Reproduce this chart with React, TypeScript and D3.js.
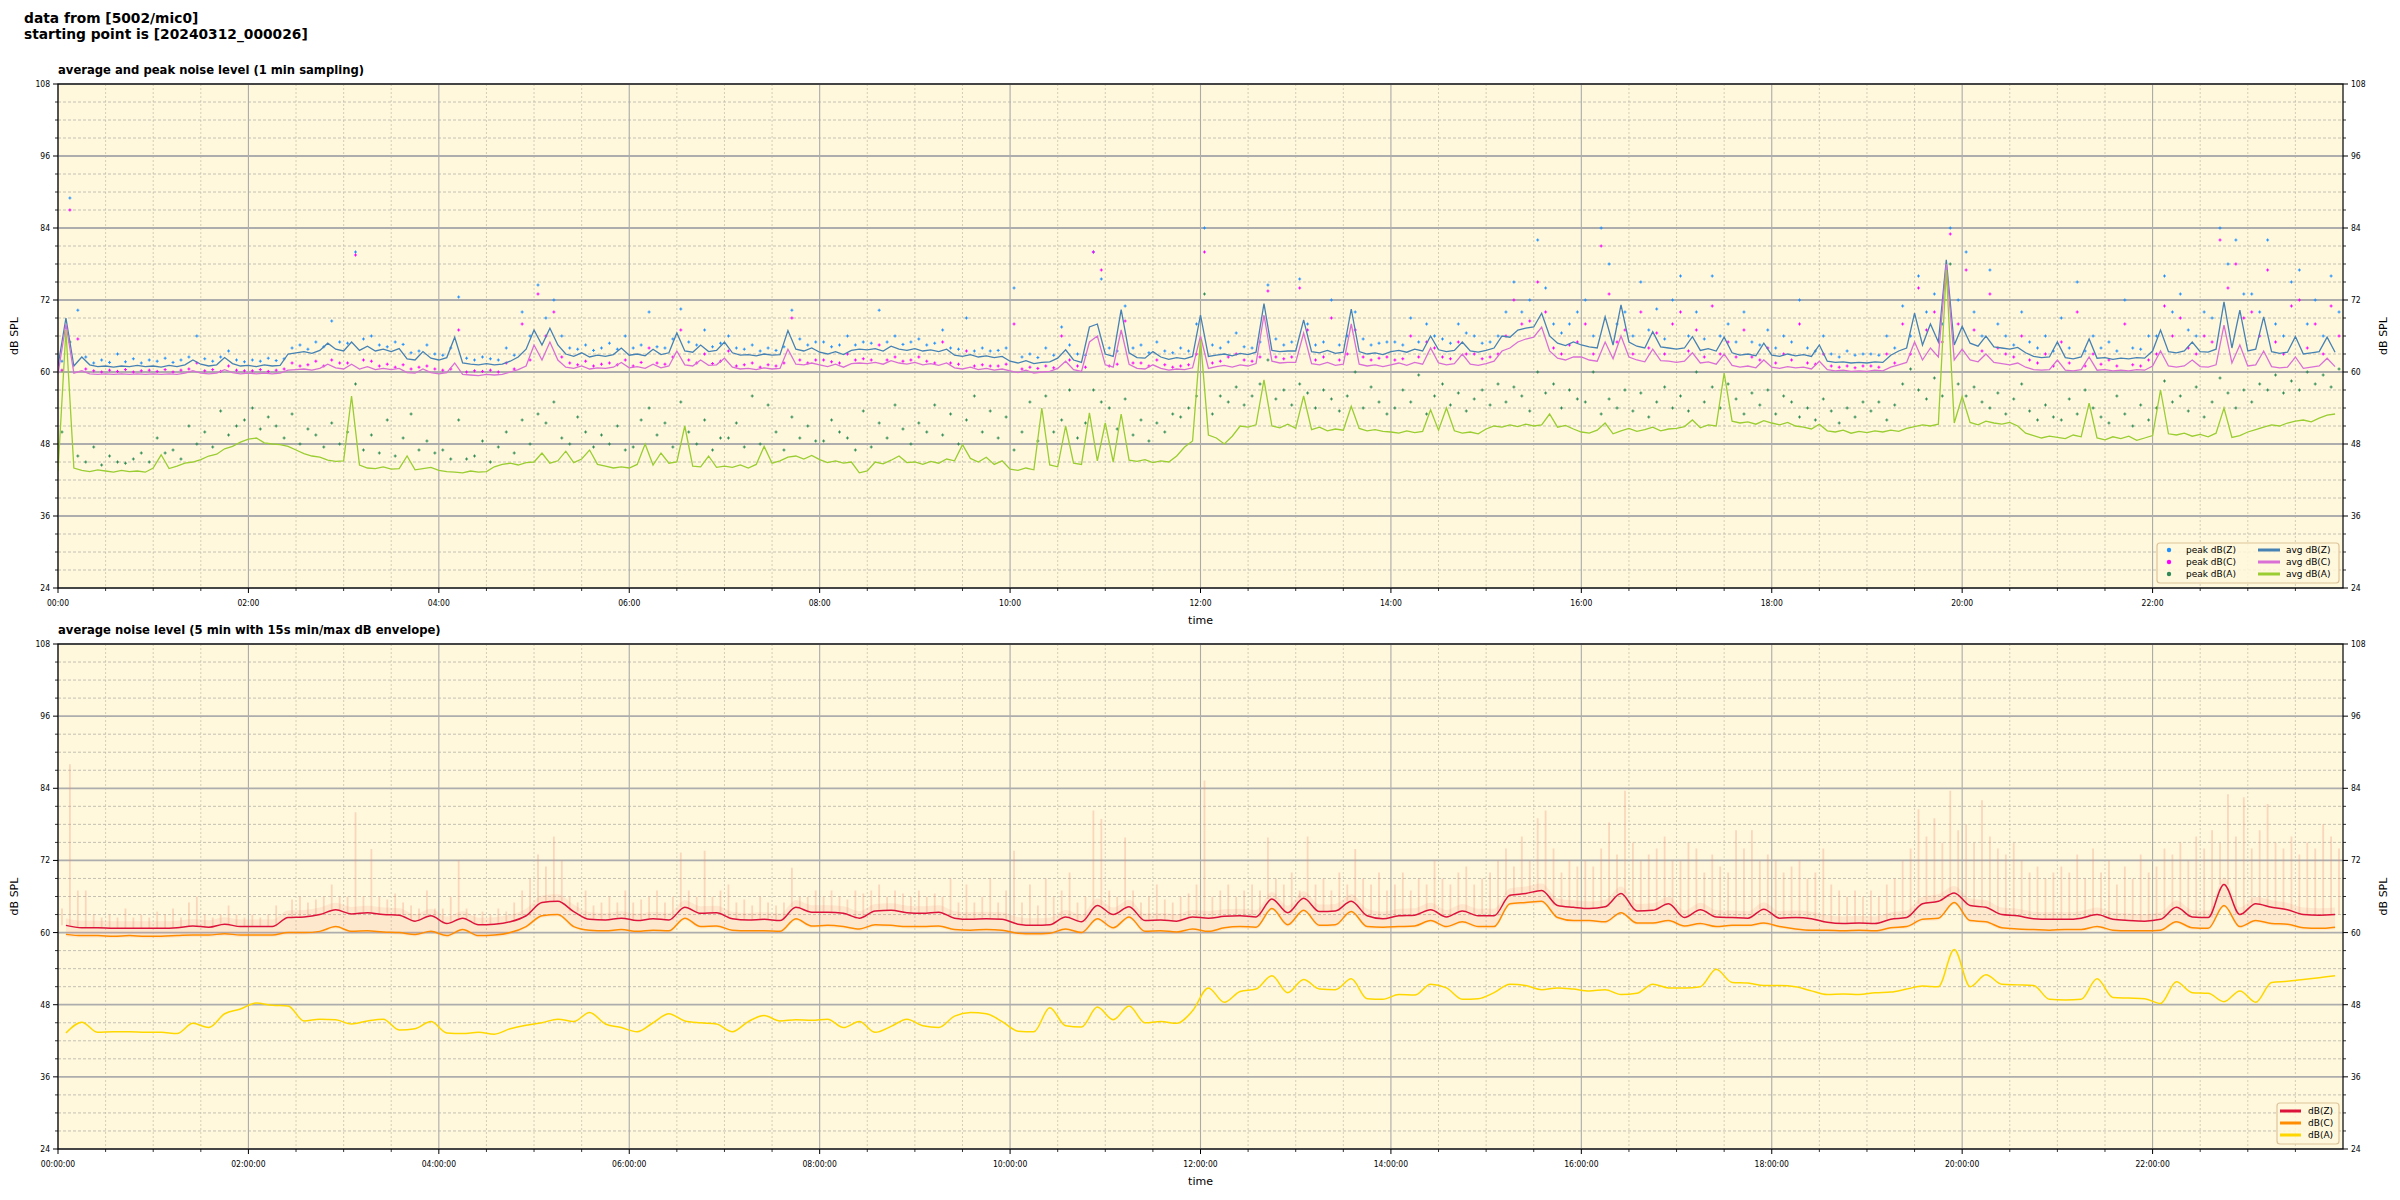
import * as d3 from 'd3'

// ---- top panel: 1 min sampling, stored here at 5 min steps ----
const avgZ = [
  61.0, 69.0, 61.0, 62.5, 61.2, 60.9, 61.0, 60.8, 61.0, 60.9, 61.1, 60.9,
  61.0, 60.8, 61.1, 60.9, 61.2, 62.0, 61.3, 61.0, 61.2, 62.4, 61.4, 61.0,
  61.1, 60.9, 61.2, 61.0, 61.1, 63.0, 63.2, 63.4, 63.1, 63.6, 64.8, 63.8,
  63.5, 65.0, 63.6, 64.3, 63.5, 63.8, 63.4, 63.9, 62.2, 62.0, 63.4, 62.3,
  62.0, 62.4, 65.8, 61.5, 61.3, 61.2, 61.4, 61.2, 61.3, 61.8, 62.5, 63.8,
  67.0, 64.5, 67.3, 64.5, 63.0, 62.6, 63.2, 62.5, 62.8, 62.6, 62.9, 64.0,
  62.8, 63.0, 62.7, 63.8, 62.9, 63.2, 66.5, 63.5, 63.3, 64.5, 63.4, 63.6,
  65.0, 63.2, 62.8, 62.9, 62.7, 63.0, 62.8, 62.9, 66.9, 63.8, 63.5, 64.0,
  63.3, 63.0, 63.4, 62.9, 63.6, 63.8, 63.7, 63.9, 63.5, 64.3, 63.8, 63.6,
  63.9, 63.5, 63.7, 63.4, 63.8, 62.8, 62.6, 62.9, 62.5, 62.7, 62.4, 62.6,
  61.8, 61.5, 61.9, 61.4, 61.6, 61.7, 62.3, 63.7, 62.0, 61.6, 67.5, 68.0,
  63.0, 62.6, 70.4, 63.2, 62.4, 62.3, 63.4, 62.5, 62.1, 62.4, 62.2, 62.6,
  69.5, 62.6, 62.8, 63.0, 62.7, 63.1, 62.9, 63.3, 71.4, 63.6, 63.4, 63.5,
  63.5, 68.7, 63.4, 63.2, 63.6, 63.1, 63.3, 70.5, 63.4, 63.0, 63.2, 62.9,
  63.4, 63.6, 63.3, 63.8, 63.5, 66.0, 63.7, 63.4, 63.6, 65.0, 63.5, 63.3,
  63.6, 64.0, 66.0, 65.8, 67.0, 67.3, 67.5, 69.8, 66.0, 64.8, 64.4, 65.0,
  64.5, 64.2, 64.0, 69.2, 64.5, 71.2, 65.0, 64.3, 64.0, 66.7, 64.2, 64.0,
  63.8, 64.0, 65.9, 63.6, 63.9, 63.5, 65.8, 63.2, 62.8, 63.0, 62.7, 64.8,
  62.8, 62.6, 63.0, 62.7, 62.9, 62.6, 64.5, 61.8, 61.6, 61.7, 61.5, 61.6,
  61.5, 61.7, 61.6, 62.8, 63.5, 64.0, 69.8, 64.5, 68.0, 65.0, 78.7, 64.5,
  67.6, 64.8, 64.3, 66.0, 64.2, 64.0, 63.8, 64.1, 63.2, 62.6, 62.4, 62.5,
  65.0, 62.4, 62.2, 62.5, 65.5, 62.3, 62.4, 62.1, 62.3, 62.2, 62.4, 62.3,
  63.5, 67.0, 63.4, 63.2, 63.5, 65.0, 63.4, 63.3, 63.8, 71.7, 64.0, 70.3,
  63.5, 63.8, 69.2, 63.4, 63.1, 63.3, 65.9, 63.0, 63.2, 63.4, 65.8, 63.3,
]

const avgC = [
  59.7, 68.0, 59.8, 60.2, 59.7, 59.6, 59.7, 59.6, 59.7, 59.6, 59.7, 59.6,
  59.7, 59.6, 59.7, 59.6, 59.8, 60.2, 59.8, 59.7, 59.8, 60.4, 59.9, 59.7,
  59.8, 59.7, 59.8, 59.7, 59.8, 60.3, 60.4, 60.5, 60.3, 60.6, 61.3, 60.7,
  60.5, 61.3, 60.5, 60.9, 60.4, 60.6, 60.4, 60.6, 59.9, 59.8, 60.5, 59.9,
  59.7, 59.9, 61.5, 59.6, 59.5, 59.4, 59.6, 59.5, 59.6, 60.0, 60.4, 61.0,
  64.5, 62.0, 65.0, 62.0, 60.8, 60.6, 61.0, 60.5, 60.7, 60.6, 60.8, 61.6,
  60.7, 60.9, 60.6, 61.3, 60.7, 61.0, 63.5, 61.2, 61.0, 62.0, 61.1, 61.2,
  62.3, 60.8, 60.5, 60.6, 60.4, 60.7, 60.5, 60.6, 63.8, 61.3, 61.2, 61.5,
  61.2, 60.9, 61.3, 60.8, 61.4, 61.5, 61.4, 61.6, 61.3, 61.9, 61.5, 61.3,
  61.6, 61.2, 61.4, 61.1, 61.5, 60.7, 60.5, 60.8, 60.4, 60.6, 60.3, 60.5,
  60.2, 59.9, 60.3, 59.8, 60.0, 60.1, 60.6, 61.8, 60.4, 60.1, 65.0, 66.0,
  61.2, 60.8, 67.0, 61.3, 60.6, 60.5, 61.2, 60.6, 60.3, 60.5, 60.4, 60.7,
  66.0, 60.6, 60.9, 61.1, 60.8, 61.2, 61.0, 61.4, 69.5, 61.8, 61.5, 61.6,
  61.6, 66.5, 61.4, 61.2, 61.6, 61.1, 61.3, 68.0, 61.3, 61.0, 61.2, 60.9,
  61.2, 61.5, 61.1, 61.6, 61.3, 64.0, 61.5, 61.2, 61.4, 63.0, 61.3, 61.1,
  61.4, 61.8, 63.5, 64.0, 65.0, 65.5, 65.8, 67.5, 63.5, 62.3, 62.0, 62.5,
  62.5, 62.0, 61.8, 65.0, 62.2, 66.0, 62.5, 62.0, 61.7, 63.8, 61.9, 61.8,
  61.6, 61.8, 63.2, 61.5, 61.7, 61.3, 63.0, 61.1, 60.8, 61.0, 60.7, 62.0,
  60.8, 60.6, 60.9, 60.7, 60.8, 60.5, 61.8, 60.4, 60.2, 60.3, 60.1, 60.2,
  60.1, 60.3, 60.2, 60.8, 61.2, 61.6, 65.0, 62.0, 64.0, 62.5, 78.0, 62.0,
  63.8, 62.0, 61.7, 63.0, 61.6, 61.4, 61.2, 61.5, 60.8, 60.4, 60.3, 60.4,
  62.0, 60.3, 60.2, 60.4, 62.5, 60.3, 60.4, 60.2, 60.3, 60.2, 60.4, 60.3,
  61.0, 63.5, 61.0, 60.8, 61.0, 62.0, 60.9, 60.8, 61.2, 67.8, 61.5, 64.5,
  61.0, 61.2, 63.5, 60.9, 60.7, 60.8, 62.5, 60.6, 60.8, 61.0, 62.3, 60.9,
]

const avgA = [
  43.5, 67.0, 44.0, 43.6, 43.4, 43.7, 43.5, 43.3, 43.6, 43.4, 43.5, 43.3,
  44.0, 46.2, 43.9, 44.3, 44.8, 45.0, 45.4, 46.0, 46.3, 47.2, 47.6, 48.3,
  48.8, 49.0, 48.2, 48.0, 47.9, 47.6, 47.0, 46.4, 46.0, 45.8, 45.3, 45.1,
  45.2, 56.0, 44.5, 44.0, 43.9, 44.2, 43.8, 43.9, 46.0, 43.7, 43.9, 44.1,
  43.6, 43.4, 43.3, 43.2, 43.5, 43.3, 43.4, 44.2, 44.6, 44.8, 44.5, 44.9,
  45.0, 46.5, 44.8, 45.2, 46.8, 44.9, 45.5, 47.0, 44.6, 44.3, 44.0, 44.2,
  44.0, 44.6, 48.0, 44.5, 46.5, 44.8, 45.0, 51.0, 44.3, 44.2, 46.0, 44.1,
  44.3, 44.1, 44.5, 44.0, 44.6, 47.6, 44.8, 45.2, 45.8, 46.0, 45.5, 46.1,
  45.4, 44.9, 45.2, 44.8, 45.0, 43.2, 43.5, 45.0, 44.7, 45.3, 46.0, 44.9,
  45.0, 44.6, 45.1, 44.8, 45.5, 45.2, 47.9, 45.6, 45.0, 45.8, 44.6, 45.2,
  43.8, 43.6, 44.0, 43.7, 54.0, 44.5, 44.2, 51.0, 44.8, 44.6, 53.2, 45.2,
  51.5, 45.0, 53.0, 45.3, 45.1, 45.4, 44.9, 45.2, 45.0, 46.0, 47.5, 48.5,
  65.4, 49.5, 49.0, 48.0, 49.3, 51.0, 50.8, 51.2, 58.7, 51.0, 50.7, 51.3,
  50.6, 56.0, 50.4, 50.8, 50.2, 50.5, 50.3, 54.3, 50.6, 50.2, 50.4, 50.1,
  50.0, 49.8, 50.2, 49.9, 50.1, 53.7, 50.3, 54.0, 50.2, 49.8, 50.0, 49.7,
  50.5, 51.0, 50.8, 51.2, 50.9, 51.3, 51.0, 51.2, 53.0, 50.8, 51.1, 50.5,
  50.0, 49.8, 50.3, 51.5, 49.7, 50.2, 50.6, 50.1, 50.4, 50.8, 50.2, 50.5,
  50.6, 50.9, 52.0, 50.7, 51.2, 51.0, 59.8, 51.8, 51.5, 51.7, 51.3, 51.9,
  51.5, 51.2, 51.6, 51.0, 50.8, 50.5, 51.3, 50.2, 50.0, 50.3, 49.8, 50.1,
  49.9, 50.2, 50.0, 50.3, 50.1, 50.6, 50.9, 51.2, 51.0, 51.3, 77.0, 51.5,
  55.9, 51.6, 51.2, 51.8, 51.5, 51.3, 51.6, 51.0, 49.8, 49.4, 49.0, 49.3,
  49.1, 48.9, 49.5, 49.2, 54.8, 49.0, 48.7, 49.2, 48.9, 49.3, 48.6, 49.0,
  49.4, 57.0, 49.7, 49.5, 49.8, 49.3, 49.6, 49.2, 49.8, 54.0, 49.1, 49.4,
  50.0, 50.4, 50.8, 51.2, 51.0, 51.5, 51.8, 52.0, 51.7, 52.3, 52.8, 53.0,
]

// peaks, one per 5 min
const peakZ = [
  61.8, 89.0, 70.3, 62.5, 61.5, 62.0, 61.6, 63.0, 61.7, 62.2, 61.5, 62.0,
  61.8, 62.3, 61.6, 62.0, 62.5, 66.0, 62.2, 61.8, 62.5, 63.5, 62.0, 61.7,
  62.0, 61.8, 62.3, 61.9, 62.2, 64.0, 64.5, 63.8, 65.0, 64.2, 68.5, 65.0,
  64.8, 80.0, 65.5, 66.0, 64.5, 64.2, 65.0, 64.6, 63.2, 63.5, 64.5, 63.0,
  62.8, 64.0, 72.5, 62.3, 62.0, 62.5, 62.2, 62.0, 64.0, 62.8, 70.0, 66.0,
  74.5, 69.0, 72.0, 66.0, 64.0, 63.8, 64.5, 63.6, 64.0, 64.8, 63.8, 66.0,
  64.0, 64.5, 70.0, 64.2, 64.0, 65.5, 70.5, 65.0, 64.5, 67.0, 64.2, 64.8,
  66.0, 64.0, 63.8, 64.5, 63.5, 64.0, 63.6, 64.2, 70.3, 65.5, 64.5, 65.0,
  65.0, 64.2, 64.5, 66.0, 64.5, 65.0, 64.8, 70.3, 65.0, 66.0, 64.6, 65.0,
  65.5, 64.5, 64.8, 67.0, 64.0, 63.8, 69.0, 63.5, 64.0, 63.5, 63.6, 64.0,
  74.0, 62.5, 63.0, 62.4, 64.0, 62.8, 67.5, 64.5, 63.0, 62.8, 80.0, 75.5,
  64.0, 63.5, 71.0, 64.0, 64.5, 63.2, 65.0, 63.5, 63.2, 64.0, 63.5, 68.0,
  84.0, 64.5, 64.0, 65.0, 66.5, 64.2, 64.0, 65.0, 74.5, 65.5, 64.5, 65.0,
  75.5, 68.0, 64.5, 65.0, 72.0, 64.5, 66.0, 70.0, 65.5, 64.5, 64.8, 65.0,
  65.0, 64.5, 69.0, 65.0, 68.0, 66.0, 65.5, 64.8, 68.0, 66.5, 66.0, 64.8,
  65.0, 66.0, 70.0, 75.0, 70.0, 72.0, 82.0, 74.0, 68.0, 66.5, 68.0, 70.0,
  72.0, 66.0, 84.0, 78.0, 68.0, 70.0, 66.0, 75.0, 67.0, 70.5, 65.5, 72.0,
  76.0, 66.0, 70.0, 65.5, 76.0, 66.0, 68.0, 65.0, 70.0, 65.0, 64.5, 67.0,
  64.0, 66.0, 65.0, 72.0, 64.0, 63.5, 66.0, 63.0, 62.5, 63.5, 62.8, 63.0,
  63.0, 62.8, 66.0, 64.0, 71.0, 66.0, 76.0, 70.0, 73.0, 68.0, 84.0, 72.0,
  80.0, 70.0, 66.0, 77.0, 68.0, 66.0, 64.5, 70.0, 65.0, 64.0, 66.0, 63.5,
  69.0, 64.0, 75.0, 63.5, 66.0, 64.0, 65.0, 63.5, 72.0, 64.0, 63.8, 66.0,
  66.0, 76.0, 70.0, 73.0, 67.0, 66.0, 70.0, 69.0, 84.0, 78.0, 82.0, 73.0,
  73.0, 70.0, 82.0, 68.0, 66.0, 75.0, 77.0, 68.0, 72.0, 66.0, 76.0, 70.0,
]

const peakC = [
  60.3, 87.0, 65.5, 60.5, 60.2, 60.0, 60.3, 60.1, 60.4, 60.0, 60.2, 60.3,
  60.1, 60.4, 60.0, 60.3, 60.5, 61.5, 60.2, 60.4, 60.1, 61.0, 60.3, 60.2,
  60.2, 60.4, 60.1, 60.3, 60.5, 61.5, 61.0, 61.2, 61.8, 61.0, 62.0, 61.5,
  61.5, 79.5, 62.0, 61.8, 61.0, 61.3, 60.8, 61.2, 60.5, 60.8, 61.0, 60.5,
  60.3, 60.5, 67.0, 60.0, 60.2, 60.1, 60.3, 60.0, 61.5, 60.5, 68.0, 62.0,
  73.0, 66.0, 70.0, 62.5, 61.5, 61.2, 61.8, 61.0, 61.3, 61.5, 61.2, 62.0,
  61.0, 61.6, 64.0, 61.5, 61.3, 62.5, 67.0, 62.0, 61.5, 63.0, 61.4, 61.8,
  63.5, 61.0, 61.2, 61.5, 60.8, 61.2, 61.0, 61.5, 69.0, 62.0, 61.5, 62.0,
  62.0, 61.7, 61.5, 63.0, 62.0, 62.2, 62.0, 64.5, 62.0, 62.5, 61.8, 62.0,
  62.5, 61.8, 61.5, 65.0, 61.5, 61.3, 63.5, 61.0, 61.2, 61.0, 61.0, 61.3,
  68.0, 60.5, 60.8, 60.6, 61.0, 60.7, 66.0, 62.0, 61.0, 60.8, 80.0, 77.0,
  61.0, 61.3, 68.5, 61.5, 61.5, 61.0, 62.0, 61.2, 60.8, 61.0, 61.2, 63.0,
  80.0, 61.5, 61.8, 62.5, 63.0, 62.0, 61.8, 62.5, 73.5, 62.5, 62.2, 62.5,
  74.0, 67.0, 62.0, 62.5, 69.0, 62.0, 63.0, 67.0, 62.5, 62.0, 62.3, 62.5,
  62.0, 62.2, 66.0, 62.5, 65.0, 64.0, 62.5, 62.2, 65.0, 63.0, 63.0, 62.2,
  62.5, 63.0, 66.0, 72.0, 68.0, 68.5, 75.0, 70.0, 64.0, 63.0, 64.5, 65.0,
  68.0, 63.0, 81.0, 73.0, 65.0, 67.0, 63.0, 70.0, 64.0, 66.5, 63.0, 68.0,
  70.0, 63.5, 67.0, 62.5, 71.0, 63.0, 65.0, 62.5, 67.0, 62.5, 62.0, 64.0,
  61.5, 63.0, 62.0, 68.0, 61.5, 61.3, 63.0, 61.0, 60.8, 61.0, 60.7, 61.0,
  61.0, 60.8, 63.0, 61.5, 68.0, 63.0, 74.0, 67.0, 70.0, 65.0, 83.0, 68.0,
  77.0, 67.0, 63.5, 73.0, 64.0, 63.0, 62.5, 66.0, 62.0, 61.5, 63.0, 61.0,
  65.0, 61.5, 70.0, 61.0, 63.0, 61.3, 62.0, 61.0, 68.0, 61.2, 61.0, 62.0,
  63.0, 71.0, 66.0, 69.0, 64.0, 63.0, 66.0, 65.0, 82.0, 74.0, 78.0, 69.0,
  70.0, 66.0, 77.0, 65.0, 63.0, 71.0, 72.0, 64.0, 68.0, 63.0, 71.0, 66.0,
]

const peakA = [
  50.0, 65.0, 46.0, 45.0, 47.5, 44.5, 46.0, 45.0, 44.8, 45.5, 46.5, 45.0,
  49.0, 46.5, 47.0, 45.5, 51.0, 48.0, 50.0, 47.5, 53.5, 49.5, 51.0, 52.0,
  54.0, 50.5, 52.5, 51.0, 49.0, 53.0, 48.0, 50.5, 49.5, 47.5, 51.5, 48.0,
  50.0, 58.0, 47.0, 49.5, 46.5, 52.0, 46.0, 49.0, 53.0, 47.0, 48.5, 46.5,
  47.0, 45.5, 52.0, 45.5, 46.0, 48.5, 45.0, 47.5, 50.0, 46.5, 52.0, 48.0,
  53.0, 51.5, 55.0, 49.0, 48.0, 52.5, 50.0, 47.5, 49.5, 48.0, 51.0, 47.0,
  47.5, 52.0, 54.0, 49.5, 51.5, 47.5, 55.0, 50.0, 48.0, 52.0, 47.0, 49.0,
  49.0, 51.5, 47.5, 56.0, 48.0, 54.5, 50.0, 47.0, 52.5, 49.0, 51.0, 48.5,
  48.5, 52.0, 50.0, 49.0, 47.0, 53.5, 47.5, 51.5, 49.0, 54.5, 50.5, 48.0,
  51.5, 50.0, 54.5, 49.5, 53.0, 48.0, 52.0, 56.0, 50.0, 53.5, 49.0, 52.5,
  47.0, 50.0, 55.0, 48.5, 56.0, 50.0, 52.0, 57.0, 49.0, 51.5, 57.0, 55.0,
  54.0, 50.5, 55.5, 49.5, 52.0, 48.5, 51.5, 50.0, 53.0, 52.5, 54.0, 56.0,
  73.0, 53.0, 56.0, 55.0, 57.5, 54.5, 56.0, 58.0, 62.0, 55.5, 57.0, 54.5,
  58.0, 56.5, 54.0, 57.0, 55.5, 53.5, 56.0, 60.0, 54.0, 57.5, 55.0, 53.0,
  54.0, 57.0, 55.0, 59.5, 53.0, 56.0, 58.0, 54.5, 56.5, 53.5, 55.5, 57.0,
  54.5, 58.0, 55.0, 57.5, 56.0, 53.5, 60.0, 56.5, 58.0, 54.0, 57.0, 55.5,
  55.0, 60.0, 53.0, 55.5, 54.0, 57.0, 53.5, 56.5, 52.5, 55.0, 57.5, 54.0,
  56.0, 53.5, 60.0, 55.0, 57.5, 54.0, 58.0, 55.5, 53.0, 56.5, 54.5, 57.0,
  53.0, 56.0, 55.0, 52.5, 54.0, 52.0, 55.5, 53.5, 51.5, 54.0, 52.5, 55.0,
  53.5, 55.0, 52.0, 54.5, 58.0, 60.5, 57.0, 55.5, 59.0, 56.0, 78.0, 58.0,
  56.0, 57.5, 55.0, 54.0, 56.5, 53.0, 55.5, 58.0, 53.5, 52.0, 54.5, 52.5,
  52.0, 55.5, 53.0, 57.0, 54.0, 52.5, 51.5, 56.0, 53.0, 51.0, 54.5, 52.0,
  54.0, 58.5, 55.0, 56.0, 53.5, 57.5, 52.5, 55.0, 59.0, 56.5, 54.0, 57.0,
  55.0, 58.0, 57.0, 59.5, 56.5, 58.5, 57.0, 60.0, 58.0, 59.5, 57.5, 60.5,
]

// ---- bottom panel: 5 min averages, stored at 10 min steps ----
const lvlZ = [
  61.2, 60.8, 60.8, 60.7, 60.7, 60.7, 60.7, 60.8, 61.1, 60.9, 61.4, 61.0,
  61.0, 61.0, 62.5, 62.6, 63.0, 63.8, 63.1, 63.3, 63.0, 62.9, 61.9, 62.8,
  61.5, 62.4, 61.3, 61.4, 61.8, 62.8, 65.0, 65.2, 63.5, 62.2, 62.1, 62.4,
  62.0, 62.3, 62.1, 64.2, 63.2, 63.3, 62.3, 62.1, 62.2, 62.0, 64.2, 63.4,
  63.4, 63.2, 62.4, 63.6, 63.7, 63.3, 63.2, 63.4, 62.4, 62.2, 62.3, 62.2,
  61.4, 61.2, 61.3, 62.6, 61.8, 64.5, 63.0, 64.3, 62.0, 62.1, 61.9, 62.6,
  62.4, 62.7, 62.8, 62.6, 65.6, 63.3, 65.7, 63.5, 63.6, 65.2, 62.8, 62.3,
  62.8, 62.9, 63.8, 62.6, 63.6, 62.8, 62.8, 66.2, 66.5, 67.0, 64.5, 64.2,
  64.0, 64.3, 66.5, 63.6, 63.7, 64.8, 62.5, 63.8, 62.6, 62.5, 62.4, 63.9,
  62.4, 62.5, 62.3, 61.7, 61.5, 61.6, 61.5, 62.2, 62.5, 64.8, 65.2, 66.6,
  64.5, 64.2, 63.0, 62.8, 62.3, 62.2, 62.2, 62.4, 63.0, 62.2, 62.0, 61.9,
  62.2, 64.2, 62.6, 62.5, 68.0, 63.0, 64.8, 64.2, 63.8, 63.0, 62.9, 63.0,
]

const lvlC = [
  59.7, 59.5, 59.5, 59.4, 59.5, 59.4, 59.4, 59.5, 59.6, 59.6, 59.8, 59.6,
  59.6, 59.6, 60.0, 60.0, 60.2, 61.0, 60.2, 60.3, 60.1, 60.0, 59.7, 60.2,
  59.5, 60.5, 59.5, 59.6, 60.0, 61.0, 62.8, 63.0, 61.0, 60.4, 60.3, 60.5,
  60.2, 60.4, 60.3, 62.4, 61.0, 61.1, 60.4, 60.3, 60.3, 60.2, 62.3, 61.1,
  61.2, 61.0, 60.6, 61.3, 61.2, 61.0, 61.0, 61.1, 60.5, 60.4, 60.5, 60.4,
  59.9, 59.8, 59.9, 60.6, 60.0, 62.3, 60.8, 62.6, 60.2, 60.3, 60.1, 60.6,
  60.2, 60.8, 61.0, 60.9, 64.0, 61.3, 63.7, 61.2, 61.3, 63.5, 61.0, 60.9,
  61.0, 61.1, 62.0, 61.0, 61.8, 61.0, 61.0, 64.8, 65.0, 65.2, 62.5, 62.0,
  62.0, 61.8, 63.3, 61.6, 61.6, 62.0, 61.1, 61.5, 61.0, 61.2, 61.2, 61.6,
  61.0, 60.6, 60.4, 60.4, 60.3, 60.4, 60.3, 60.8, 61.0, 62.2, 62.4, 65.0,
  62.0, 61.8, 60.8, 60.6, 60.5, 60.4, 60.5, 60.5, 61.0, 60.4, 60.3, 60.3,
  60.4, 61.8, 60.8, 60.7, 64.5, 61.0, 62.0, 61.5, 61.4, 60.8, 60.7, 60.9,
]

const lvlA = [
  43.3, 45.1, 43.4, 43.5, 43.5, 43.4, 43.4, 43.2, 44.9, 44.2, 46.5, 47.3,
  48.3, 47.9, 47.8, 45.3, 45.6, 45.5, 44.8, 45.3, 45.6, 43.8, 44.0, 45.2,
  43.3, 43.2, 43.4, 43.1, 44.0, 44.6, 45.0, 45.6, 45.2, 46.7, 44.8, 44.2,
  43.5, 45.0, 46.5, 45.3, 45.0, 44.8, 43.5, 45.2, 46.2, 45.3, 45.5, 45.4,
  45.6, 44.2, 45.2, 43.4, 44.4, 45.6, 44.5, 44.2, 46.1, 46.7, 46.5, 45.2,
  43.6, 43.5, 47.5, 44.5, 44.3, 47.6, 45.5, 47.8, 45.0, 45.2, 44.9, 47.0,
  50.8, 48.4, 50.2, 50.6, 52.8, 50.0, 52.2, 50.6, 50.5, 52.3, 49.0, 48.9,
  49.7, 49.6, 51.4, 50.8, 48.9, 49.0, 50.0, 51.4, 51.2, 50.5, 50.8, 50.6,
  50.3, 50.5, 49.7, 49.9, 51.4, 50.8, 50.8, 51.0, 53.9, 51.7, 51.6, 51.2,
  51.2, 51.0, 50.3, 49.7, 49.8, 49.7, 50.0, 50.1, 50.6, 51.1, 51.0, 57.2,
  51.0, 53.0, 51.4, 51.3, 51.2, 48.9, 48.8, 48.9, 52.3, 49.2, 49.1, 49.0,
  48.2, 51.8, 50.0, 49.9, 48.5, 50.3, 48.4, 51.7, 51.9, 52.2, 52.5, 52.8,
]

// 15 s max envelope, highest value per 5 min
const envMax = [
  64, 88, 67, 67, 63, 62.5, 63, 62.5, 64, 62.5, 63, 62.5,
  63.5, 63, 64, 62.5, 65, 66, 63, 62.5, 63, 64.5, 63, 62.5,
  63, 62.5, 63, 64.5, 62.5, 65.5, 66, 65, 65.5, 66, 68, 66,
  66, 80, 66, 73.9, 66, 65.5, 66.5, 65, 64.5, 64, 67, 64,
  64, 66, 72, 64, 63, 63.5, 63, 64, 63.5, 65, 67, 69,
  73, 71, 76, 72, 66, 65, 67, 64.5, 65, 66, 65, 67,
  65, 65.5, 66, 67, 65, 66, 73.3, 67, 66, 73.6, 66, 67,
  68, 65, 65.5, 64.5, 66, 65, 64.5, 65, 70.8, 66, 66, 67,
  66, 67, 66, 65.5, 67, 66.5, 67, 68, 66, 67, 66.5, 66,
  67, 66, 66.5, 66, 69, 65, 68, 65, 66, 69, 65, 67,
  73.6, 65, 68, 64.5, 69, 66, 67, 70, 65, 66, 80.3, 78.9,
  67, 66, 75.8, 67, 65, 66, 68, 65.5, 65, 66, 66.5, 68,
  85.3, 66, 67, 68, 66, 67, 68, 67, 75.8, 69, 68, 70,
  67, 76, 68, 69, 67, 70, 68, 73.9, 69, 68, 70, 67,
  68, 70, 67, 69, 68, 72, 69, 68, 70, 71, 68, 69,
  70, 72, 74, 71, 76, 72, 79, 80.3, 74, 70, 72, 71,
  72, 71, 74, 78.3, 73, 83.6, 75, 72, 73, 74, 76, 72,
  72, 75, 74, 70, 73, 71, 70, 77, 74, 77, 72, 73,
  72, 70, 71, 72, 69, 70, 74, 68, 67, 66, 67, 66,
  67, 66, 68, 69, 72, 74, 80.5, 76, 79, 75, 83.6, 77,
  78, 75, 82, 76, 74, 73, 75, 72, 70, 71, 69, 70,
  71, 70, 73, 69, 74, 70, 72, 68, 71, 69, 73, 70,
  71, 74, 73, 75, 72, 76, 74, 77, 75, 83, 76, 82.5,
  74, 77, 81.4, 75, 74, 76, 73, 75, 74, 78, 76, 74,
]

const yTicks = [24, 36, 48, 60, 72, 84, 96, 108]
const hourTicks = [0, 2, 4, 6, 8, 10, 12, 14, 16, 18, 20, 22]

const FONT = "'DejaVu Sans', sans-serif"
const TICK_FONT = "'DejaVu Sans Condensed', 'DejaVu Sans', sans-serif"
const BG = '#fff8dc'

const L = 58, R = 2343
const x = d3.scaleLinear().domain([0, 1440]).range([L, R])

const pad = (n: number) => String(n).padStart(2, '0')

function Grid({ y }: { y: d3.ScaleLinear<number, number> }) {
  const [b, t] = y.range()
  const minorX = d3.range(0, 1441, 30).filter(m => m % 120 !== 0)
  const minorY = d3.range(24, 109, 3).filter(v => v % 12 !== 0)
  return (
    <g>
      <rect x={L} y={t} width={R - L} height={b - t} fill={BG} />
      {minorX.map(m => (
        <line key={'mx' + m} x1={x(m)} x2={x(m)} y1={t} y2={b} stroke="#c8c3b0" strokeWidth={0.8} strokeDasharray="2,2" />
      ))}
      {minorY.map(v => (
        <line key={'my' + v} x1={L} x2={R} y1={y(v)} y2={y(v)} stroke="#b5b2a8" strokeWidth={0.8} strokeDasharray="3,2" />
      ))}
      {hourTicks.map(h => (
        <line key={'gx' + h} x1={x(h * 60)} x2={x(h * 60)} y1={t} y2={b} stroke="#aaaaaa" strokeWidth={1.1} />
      ))}
      {yTicks.map(v => (
        <line key={'gy' + v} x1={L} x2={R} y1={y(v)} y2={y(v)} stroke="#adadad" strokeWidth={1.8} />
      ))}
    </g>
  )
}

function Frame({ y, fmt, title }: { y: d3.ScaleLinear<number, number>; fmt: (h: number) => string; title: string }) {
  const [b, t] = y.range()
  const minorX = d3.range(0, 1441, 30).filter(m => m % 120 !== 0)
  const minorY = d3.range(24, 109, 3).filter(v => v % 12 !== 0)
  const mid = (b + t) / 2
  return (
    <g fontFamily={FONT}>
      <rect x={L} y={t} width={R - L} height={b - t} fill="none" stroke="#000" strokeWidth={1.2} />
      {yTicks.map(v => (
        <g key={'ty' + v}>
          <line x1={L - 5} x2={L} y1={y(v)} y2={y(v)} stroke="#000" />
          <line x1={R} x2={R + 5} y1={y(v)} y2={y(v)} stroke="#000" />
          <text x={L - 8} y={y(v) + 3} textAnchor="end" fontSize={8.5} fontFamily={TICK_FONT}>{v}</text>
          <text x={R + 8} y={y(v) + 3} fontSize={8.5} fontFamily={TICK_FONT}>{v}</text>
        </g>
      ))}
      {minorY.map(v => (
        <g key={'tmy' + v}>
          <line x1={L - 3} x2={L} y1={y(v)} y2={y(v)} stroke="#000" strokeWidth={0.8} />
          <line x1={R} x2={R + 3} y1={y(v)} y2={y(v)} stroke="#000" strokeWidth={0.8} />
        </g>
      ))}
      {hourTicks.map(h => (
        <g key={'tx' + h}>
          <line x1={x(h * 60)} x2={x(h * 60)} y1={b} y2={b + 5} stroke="#000" />
          <text x={x(h * 60)} y={b + 18} textAnchor="middle" fontSize={8.5} fontFamily={TICK_FONT}>{fmt(h)}</text>
        </g>
      ))}
      {minorX.map(m => (
        <line key={'tmx' + m} x1={x(m)} x2={x(m)} y1={b} y2={b + 3} stroke="#000" strokeWidth={0.8} />
      ))}
      <text x={(L + R) / 2} y={b + 36} textAnchor="middle" fontSize={11}>time</text>
      <text transform={`translate(${L - 40},${mid}) rotate(-90)`} textAnchor="middle" fontSize={11}>dB SPL</text>
      <text transform={`translate(${R + 44},${mid}) rotate(-90)`} textAnchor="middle" fontSize={11}>dB SPL</text>
      <text x={L} y={t - 10} fontSize={11.6} fontWeight="bold">{title}</text>
    </g>
  )
}

function plusPath(vals: number[], step: number, y: d3.ScaleLinear<number, number>) {
  return vals.map((v, i) => {
    const px = x(i * step + step / 2)
    const py = y(v)
    return `M${px - 1.5},${py}h3M${px},${py - 1.5}v3`
  }).join('')
}

export default function App() {
  const yTop = d3.scaleLinear().domain([24, 108]).range([588, 84])
  const yBot = d3.scaleLinear().domain([24, 108]).range([1149, 644])

  const line5 = d3.line<number>().x((_, i) => x(i * 5)).y(d => yTop(d))
  const line10 = d3.line<number>().x((_, i) => x(i * 10 + 5)).y(d => yBot(d)).curve(d3.curveMonotoneX)

  const band = d3.area<number>()
    .x((_, i) => x(i * 10 + 5))
    .y0((_, i) => yBot(lvlC[i]) + 2)
    .y1(d => yBot(d) - 7)
    .curve(d3.curveMonotoneX)

  const spikes = envMax.map((v, i) => {
    const px = x(i * 5 + 2.5)
    const base = yBot(lvlZ[Math.min(lvlZ.length - 1, Math.floor(i / 2))])
    return `M${px},${base}V${yBot(v)}`
  }).join('')

  return (
    <svg width={2400} height={1200} style={{ position: 'absolute', left: 0, top: 0, background: '#fff' }}>
      <defs>
        <clipPath id="c1"><rect x={L} y={84} width={R - L} height={504} /></clipPath>
        <clipPath id="c2"><rect x={L} y={644} width={R - L} height={505} /></clipPath>
      </defs>
      <text x={24} y={23} fontFamily={FONT} fontWeight="bold" fontSize={13.8}>data from [5002/mic0]</text>
      <text x={24} y={39} fontFamily={FONT} fontWeight="bold" fontSize={13.8}>starting point is [20240312_000026]</text>

      {/* top panel */}
      <Grid y={yTop} />
      <g clipPath="url(#c1)">
        <path d={plusPath(peakZ, 5, yTop)} stroke="#1e90ff" strokeWidth={1} fill="none" />
        <path d={plusPath(peakC, 5, yTop)} stroke="#ff00ff" strokeWidth={1} fill="none" />
        <path d={plusPath(peakA, 5, yTop)} stroke="#2e8b57" strokeWidth={1} fill="none" />
        <path d={line5(avgZ) ?? ''} stroke="#4682b4" strokeWidth={1.3} fill="none" />
        <path d={line5(avgC) ?? ''} stroke="#da70d6" strokeWidth={1.3} fill="none" />
        <path d={line5(avgA) ?? ''} stroke="#9acd32" strokeWidth={1.3} fill="none" />
      </g>
      <Frame y={yTop} fmt={h => `${pad(h)}:00`} title="average and peak noise level (1 min sampling)" />
      <g fontFamily={FONT} fontSize={9}>
        <rect x={2157} y={543} width={182} height={40} rx={3} fill={BG} fillOpacity={0.85} stroke="#dfc398" strokeWidth={1.2} />
        {[['peak dB(Z)', '#1e90ff'], ['peak dB(C)', '#ff00ff'], ['peak dB(A)', '#2e8b57']].map(([t, c], i) => (
          <g key={t}>
            <circle cx={2169} cy={550 + i * 12} r={2.2} fill={c} />
            <text x={2186} y={553 + i * 12}>{t}</text>
          </g>
        ))}
        {[['avg dB(Z)', '#4682b4'], ['avg dB(C)', '#da70d6'], ['avg dB(A)', '#9acd32']].map(([t, c], i) => (
          <g key={t}>
            <line x1={2258} x2={2280} y1={550 + i * 12} y2={550 + i * 12} stroke={c} strokeWidth={3} />
            <text x={2286} y={553 + i * 12}>{t}</text>
          </g>
        ))}
      </g>

      {/* bottom panel */}
      <Grid y={yBot} />
      <g clipPath="url(#c2)">
        <path d={band(lvlZ) ?? ''} fill="#f08a70" fillOpacity={0.14} />
        <path d={spikes} stroke="#f08a70" strokeOpacity={0.3} strokeWidth={1.8} fill="none" />
        <path d={line10(lvlZ) ?? ''} stroke="#dc143c" strokeWidth={1.5} fill="none" />
        <path d={line10(lvlC) ?? ''} stroke="#ff8c00" strokeWidth={1.5} fill="none" />
        <path d={line10(lvlA) ?? ''} stroke="#ffd700" strokeWidth={1.5} fill="none" />
      </g>
      <Frame y={yBot} fmt={h => `${pad(h)}:00:00`} title="average noise level (5 min with 15s min/max dB envelope)" />
      <g fontFamily={FONT} fontSize={9}>
        <rect x={2277} y={1103} width={62} height={41} rx={3} fill={BG} fillOpacity={0.85} stroke="#dfc398" strokeWidth={1.2} />
        {[['dB(Z)', '#dc143c'], ['dB(C)', '#ff8c00'], ['dB(A)', '#ffd700']].map(([t, c], i) => (
          <g key={t}>
            <line x1={2280} x2={2301} y1={1111 + i * 12} y2={1111 + i * 12} stroke={c} strokeWidth={3} />
            <text x={2308} y={1114 + i * 12}>{t}</text>
          </g>
        ))}
      </g>
    </svg>
  )
}
